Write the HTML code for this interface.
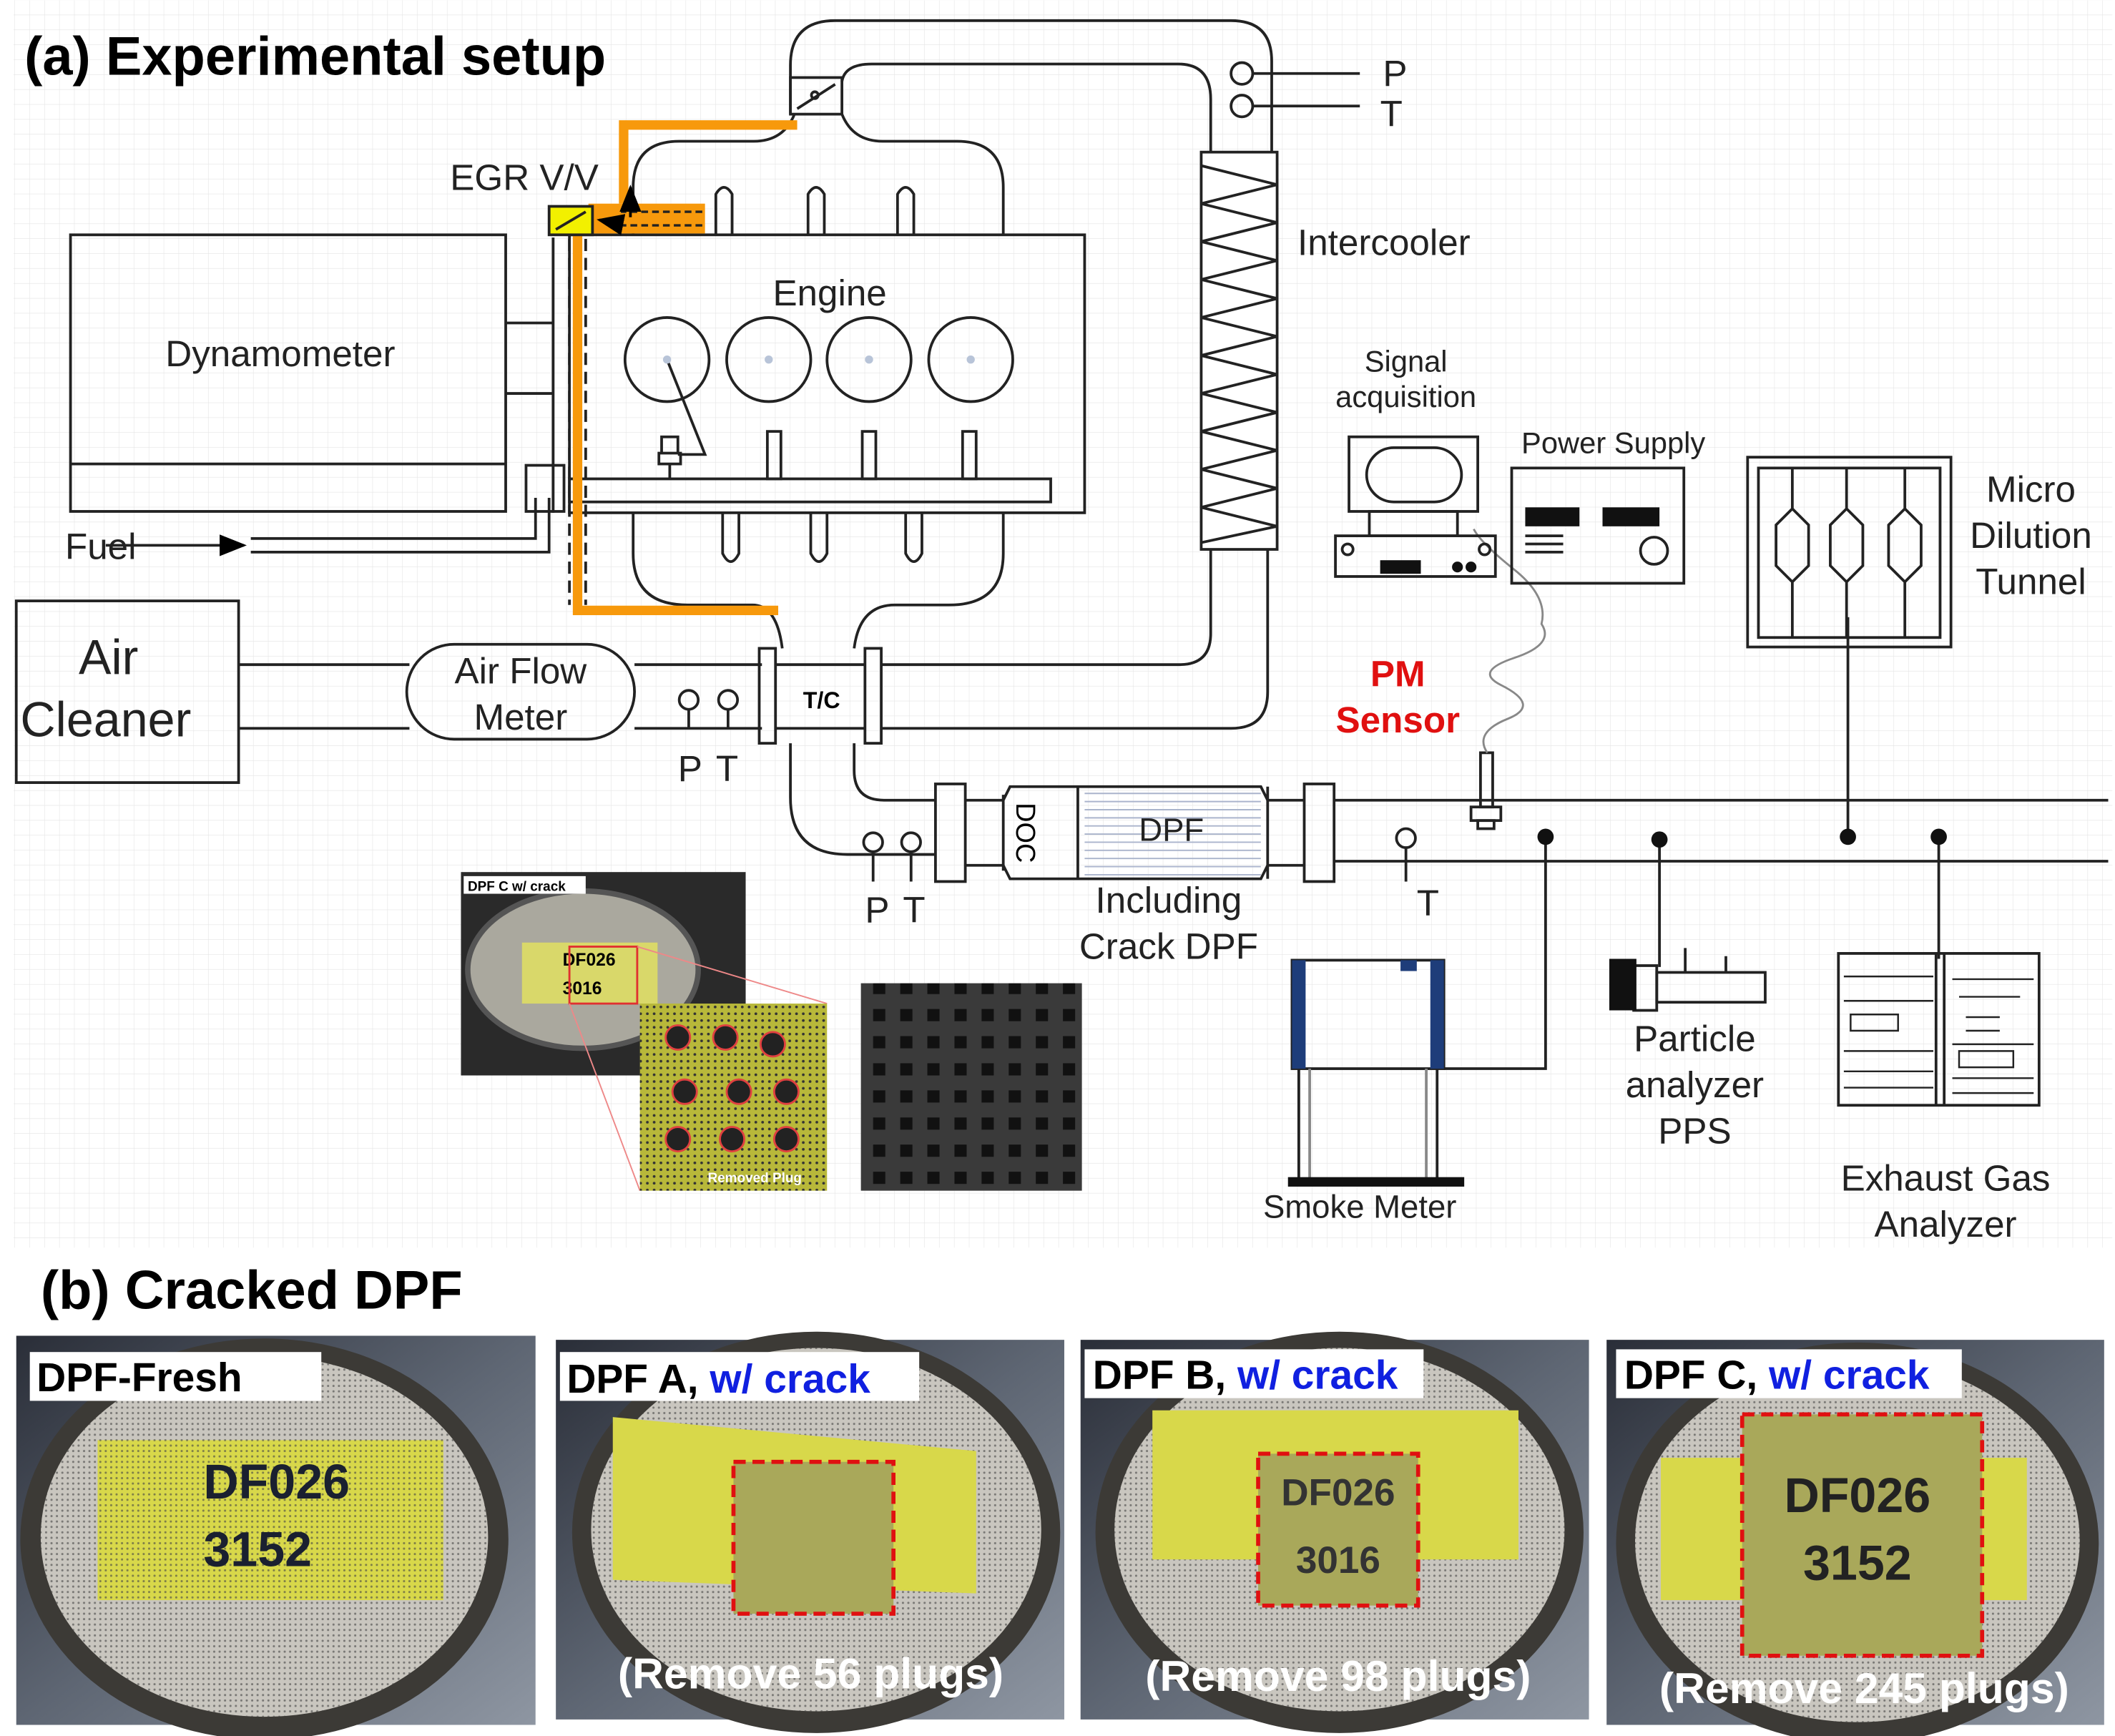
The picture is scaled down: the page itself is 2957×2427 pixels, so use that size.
<!DOCTYPE html>
<html><head><meta charset="utf-8"><style>
html,body{margin:0;padding:0;background:#fff}
svg{display:block}
text{font-family:"Liberation Sans",sans-serif}
.n{font-family:"Liberation Sans Narrow","Liberation Sans",sans-serif}
</style></head><body>
<svg width="2957" height="2427" viewBox="0 0 1560 1280" xmlns="http://www.w3.org/2000/svg">
<defs>
<pattern id="g" width="11" height="11" patternUnits="userSpaceOnUse"><path d="M11 0V11H0" fill="none" stroke="#e4e4e4" stroke-width="0.6"/></pattern>
<pattern id="dots" width="5" height="5" patternUnits="userSpaceOnUse"><circle cx="2.5" cy="2.5" r="1" fill="#333"/></pattern>
<pattern id="fd" width="4" height="4" patternUnits="userSpaceOnUse"><circle cx="2" cy="2" r="0.8" fill="#444" opacity="0.6"/></pattern>
<pattern id="cells" width="20" height="20" patternUnits="userSpaceOnUse"><rect width="20" height="20" fill="#3a3a3a"/><rect x="4" y="4" width="9" height="9" fill="#111"/></pattern>
<linearGradient id="met" x1="0" y1="0" x2="1" y2="1"><stop offset="0" stop-color="#2a2e38"/><stop offset="0.5" stop-color="#5e6673"/><stop offset="1" stop-color="#8e96a2"/></linearGradient>
<marker id="ar" markerWidth="10" markerHeight="8" refX="9" refY="4" orient="auto"><path d="M0 0L10 4L0 8z" fill="#000"/></marker>
</defs>
<rect x="10" y="0" width="1548" height="920" fill="url(#g)"/>
<text x="18" y="55" font-size="40" font-weight="bold">(a) Experimental setup</text>
<g fill="none" stroke="#222" stroke-width="2">
<!-- dynamometer -->
<rect x="52" y="173" width="321" height="204"/><line x1="52" y1="342" x2="373" y2="342"/>
<line x1="373" y1="238" x2="408" y2="238"/><line x1="373" y1="290" x2="408" y2="290"/>
<line x1="408" y1="175" x2="408" y2="378"/>
<rect x="388" y="343" width="28" height="34"/>
<!-- engine -->
<rect x="420" y="173" width="380" height="205"/>
<circle cx="492" cy="265" r="31"/><circle cx="567" cy="265" r="31"/><circle cx="641" cy="265" r="31"/><circle cx="716" cy="265" r="31"/>
<rect x="420" y="353" width="355" height="17"/>
<path d="M492 265L520 335h-20M488 322h12v12h-12zM486 334h16v8h-16zM494 342v11"/>
<path d="M566 318v35h10v-35zM636 318v35h10v-35zM710 318v35h10v-35z"/>
<path d="M528 173v-30q6-10 12 0v30M596 173v-30q6-10 12 0v30M662 173v-30q6-10 12 0v30"/>
<path d="M533 378v30q6 12 12 0v-30M598 378v30q6 12 12 0v-30M668 378v30q6 12 12 0v-30"/>
<!-- intake manifold loop above engine -->
<path d="M467 173v-35q0-34 34-34h55q22 0 30-20"/>
<path d="M740 173v-35q0-34-34-34h-55q-22 0-30-20"/>
<!-- exhaust manifold loop below engine -->
<path d="M467 378v30q0 38 40 38h48q18 0 22 32"/>
<path d="M740 378v30q0 38-40 38h-40q-26 0-30 32"/>
<!-- throttle & intercooler loops -->
<path d="M583 84V48q0-33 33-33h292q30 0 30 30v67"/>
<path d="M621 60q2-13 22-13h226q24 0 24 26v39"/>
<rect x="583" y="57" width="38" height="27"/><line x1="588" y1="80" x2="616" y2="62"/><circle cx="601" cy="70" r="2.5"/>
<path d="M893 405v62q0 23-23 23h-220"/>
<path d="M935 405v105q0 27-27 27h-258"/>
<!-- fuel -->
<line x1="78" y1="402" x2="180" y2="402" marker-end="url(#ar)"/>
<path d="M185 397h210v-30M185 407h220v-40"/>
<!-- air cleaner -->
<rect x="12" y="443" width="164" height="134"/>
<line x1="176" y1="490" x2="302" y2="490"/><line x1="176" y1="537" x2="302" y2="537"/>
<rect x="300" y="475" width="168" height="70" rx="35"/>
<line x1="468" y1="490" x2="562" y2="490"/><line x1="468" y1="537" x2="562" y2="537"/>
<circle cx="508" cy="516" r="7"/><line x1="508" y1="523" x2="508" y2="537"/>
<circle cx="537" cy="516" r="7"/><line x1="537" y1="523" x2="537" y2="537"/>
<!-- T/C -->
<rect x="560" y="478" width="12" height="70"/><rect x="638" y="478" width="12" height="70"/>
<line x1="572" y1="490" x2="638" y2="490"/><line x1="572" y1="537" x2="638" y2="537"/>
<!-- turbine to DPF -->
<path d="M583 548v40q0 42 42 42h65"/>
<path d="M630 548v20q0 22 22 22h38"/>
<circle cx="644" cy="621" r="7"/><line x1="644" y1="628" x2="644" y2="650"/>
<circle cx="672" cy="621" r="7"/><line x1="672" y1="628" x2="672" y2="650"/>
<!-- P T top -->
<circle cx="916" cy="54" r="8"/><line x1="924" y1="54" x2="1003" y2="54"/>
<circle cx="916" cy="78" r="8"/><line x1="924" y1="78" x2="1003" y2="78"/>
<!-- intercooler -->
<rect x="886" y="112" width="56" height="293" fill="#fff"/>
<path d="M886 122L942 136L886 150L942 164L886 178L942 192L886 206L942 220L886 234L942 248L886 262L942 276L886 290L942 304L886 318L942 332L886 346L942 360L886 374L942 388L886 400"/>
<!-- DPF -->
<rect x="690" y="578" width="22" height="72"/><rect x="962" y="578" width="22" height="72"/>
<path d="M712 590h28l5-10h185l5 10h27M712 638h28l5 10h185l5-10h27"/>
<line x1="740" y1="586" x2="740" y2="642"/><line x1="795" y1="580" x2="795" y2="648"/><line x1="935" y1="580" x2="935" y2="648"/>
<!-- exhaust pipe -->
<line x1="984" y1="590" x2="1555" y2="590"/><line x1="984" y1="635" x2="1555" y2="635"/>
<circle cx="1037" cy="618" r="7"/><line x1="1037" y1="625" x2="1037" y2="650"/>
<!-- PM sensor -->
<rect x="1092" y="555" width="9" height="40"/><rect x="1085" y="595" width="22" height="10"/><rect x="1090" y="605" width="12" height="6"/>
<path d="M1097 555q-10-15 15-25t-5-25q-20-10 10-20t20-25q5-20-20-40t-30-30" stroke="#888" stroke-width="1.5"/>
<!-- connections -->
<path d="M1140 616v172h-75"/><path d="M1224 618v95"/><path d="M1363 617v-162"/><path d="M1430 617v90"/>
<!-- Signal acquisition computer -->
<rect x="995" y="322" width="95" height="55"/><rect x="1008" y="330" width="70" height="40" rx="20"/>
<rect x="1010" y="377" width="65" height="18"/>
<rect x="985" y="395" width="118" height="30"/><circle cx="994" cy="405" r="4"/><circle cx="1095" cy="405" r="4"/>
<!-- power supply -->
<rect x="1115" y="345" width="127" height="85"/>
<path d="M1125 395h28M1125 401h28M1125 407h28"/>
<!-- micro dilution -->
<rect x="1289" y="337" width="150" height="140"/><rect x="1297" y="345" width="134" height="125"/>
<path d="M1322 345v30l-12 12v30l12 12v41M1322 375l12 12v30l-12 12M1362 345v30l-12 12v30l12 12v41M1362 375l12 12v30l-12 12M1405 345v30l-12 12v30l12 12v41M1405 375l12 12v30l-12 12"/>
<!-- smoke meter -->
<rect x="953" y="708" width="112" height="80"/>
<line x1="958" y1="788" x2="958" y2="870"/><line x1="1060" y1="788" x2="1060" y2="870"/>
<line x1="966" y1="788" x2="966" y2="870" stroke="#888"/><line x1="1052" y1="788" x2="1052" y2="870" stroke="#888"/>
<!-- particle analyzer -->
<rect x="1205" y="712" width="17" height="33"/><rect x="1222" y="717" width="80" height="22"/>
<path d="M1243 717v-18M1273 717v-12"/>
<!-- exhaust gas analyzer -->
<rect x="1356" y="703" width="148" height="112"/><line x1="1428" y1="703" x2="1428" y2="815"/><line x1="1434" y1="703" x2="1434" y2="815"/>
<path d="M1360 720h66M1360 738h66M1365 748h35v12h-35zM1360 775h66M1360 790h66M1360 802h66M1440 722h60M1445 735h45M1450 750h25M1450 760h25M1440 770h60M1445 775h40v12h-40zM1440 795h60M1440 806h60" stroke-width="1.3"/>
</g>
<g fill="#111"><rect x="1125" y="374" width="40" height="14"/><rect x="1182" y="374" width="42" height="14"/>
<circle cx="1220" cy="406" r="10" fill="none" stroke="#222" stroke-width="2"/>
<rect x="1018" y="413" width="30" height="10"/><circle cx="1075" cy="418" r="4"/><circle cx="1085" cy="418" r="4"/>
<circle cx="1140" cy="617" r="6"/><circle cx="1224" cy="619" r="6"/><circle cx="1363" cy="617" r="6"/><circle cx="1430" cy="617" r="6"/>
<rect x="950" y="868" width="130" height="7"/><rect x="1187" y="707" width="20" height="38"/></g>
<rect x="953" y="708" width="10" height="80" fill="#1e3d7a"/><rect x="1055" y="708" width="10" height="80" fill="#1e3d7a"/>
<rect x="1033" y="708" width="12" height="8" fill="#1e3d7a"/>
<g fill="#b8c4d8"><circle cx="492" cy="265" r="3"/><circle cx="567" cy="265" r="3"/><circle cx="641" cy="265" r="3"/><circle cx="716" cy="265" r="3"/></g>
<path d="M800 585h130M800 591h130M800 597h130M800 603h130M800 609h130M800 615h130M800 621h130M800 627h130M800 633h130M800 639h130M800 645h130" stroke="#aab4cc" stroke-width="1"/>
<!-- EGR orange -->
<g fill="none" stroke="#f7990c" stroke-width="7">
<path d="M588 92h-128v58"/><path d="M426 172v278h148"/>
</g>
<rect x="434" y="150" width="86" height="22" fill="#f7990c"/>
<path d="M420 176v270M432 176v270" stroke="#222" stroke-width="2" stroke-dasharray="9,5" fill="none"/>
<path d="M518 156h-60M518 166h-62" stroke="#222" stroke-width="1.8" stroke-dasharray="5,3" fill="none"/>
<path d="M465 160v-22" stroke="#000" stroke-width="2" marker-end="url(#ar)"/>
<path d="M452 164l-10-2" stroke="#000" stroke-width="2" marker-end="url(#ar)"/>
<rect x="405" y="152" width="32" height="21" fill="#f2f000" stroke="#222" stroke-width="2"/>
<line x1="410" y1="169" x2="432" y2="156" stroke="#222" stroke-width="2"/>
<!-- photos in top panel -->
<rect x="340" y="643" width="210" height="150" fill="#2a2a2a"/>
<ellipse cx="430" cy="715" rx="85" ry="58" fill="#aaa89e" stroke="#555" stroke-width="4"/>
<rect x="385" y="695" width="100" height="45" fill="#d9d86a"/>
<text x="415" y="712" font-size="13" font-weight="bold">DF026</text><text x="415" y="733" font-size="13" font-weight="bold">3016</text>
<rect x="342" y="646" width="90" height="13" fill="#fff"/><text x="345" y="657" font-size="10" font-weight="bold">DPF C w/ crack</text>
<rect x="420" y="698" width="50" height="42" fill="none" stroke="#e03030" stroke-width="1.5"/>
<path d="M420 740L472 878M470 698L610 740" stroke="#e88" stroke-width="1"/>
<rect x="472" y="740" width="138" height="138" fill="#b8b83a"/><rect x="472" y="740" width="138" height="138" fill="url(#dots)"/>
<g fill="#222" stroke="#e04040" stroke-width="1.5"><circle cx="500" cy="765" r="9"/><circle cx="535" cy="765" r="9"/><circle cx="570" cy="770" r="9"/><circle cx="505" cy="805" r="9"/><circle cx="545" cy="805" r="9"/><circle cx="580" cy="805" r="9"/><circle cx="500" cy="840" r="9"/><circle cx="540" cy="840" r="9"/><circle cx="580" cy="840" r="9"/></g>
<text x="522" y="872" font-size="10" font-weight="bold" fill="#fff">Removed Plug</text>
<rect x="635" y="725" width="163" height="153" fill="url(#cells)"/>
<!-- labels -->
<g font-size="27" fill="#222">
<text x="332" y="140">EGR V/V</text>
<text x="122" y="270">Dynamometer</text>
<text x="570" y="225">Engine</text>
<text x="48" y="412">Fuel</text>
<text x="58" y="497" font-size="36">Air</text><text x="15" y="543" font-size="36">Cleaner</text>
<text x="384" y="504" text-anchor="middle">Air Flow</text><text x="384" y="538" text-anchor="middle">Meter</text>
<text x="500" y="576">P</text><text x="528" y="576">T</text>
<text x="638" y="680">P</text><text x="666" y="680">T</text>
<text x="1020" y="63">P</text><text x="1018" y="93">T</text>
<text x="957" y="188">Intercooler</text>
<text x="1037" y="274" text-anchor="middle" font-size="22">Signal</text><text x="1037" y="300" text-anchor="middle" font-size="22">acquisition</text>
<text x="1190" y="334" text-anchor="middle" font-size="22">Power Supply</text>
<text x="1498" y="370" text-anchor="middle">Micro</text><text x="1498" y="404" text-anchor="middle">Dilution</text><text x="1498" y="438" text-anchor="middle">Tunnel</text>
<text x="864" y="620" text-anchor="middle" font-size="24">DPF</text>
<text x="862" y="673" text-anchor="middle">Including</text><text x="862" y="707" text-anchor="middle">Crack DPF</text>
<text x="1045" y="675">T</text>
<text x="1250" y="775" text-anchor="middle">Particle</text><text x="1250" y="809" text-anchor="middle">analyzer</text><text x="1250" y="843" text-anchor="middle">PPS</text>
<text x="1003" y="898" text-anchor="middle" font-size="24">Smoke Meter</text>
<text x="1435" y="878" text-anchor="middle">Exhaust Gas</text><text x="1435" y="912" text-anchor="middle">Analyzer</text>
</g>
<text x="755" y="614" font-size="20" transform="rotate(90 755 614)" text-anchor="middle" dominant-baseline="middle">DOC</text>
<text x="606" y="522" font-size="17" font-weight="bold" text-anchor="middle">T/C</text>
<text x="1031" y="506" font-size="27" font-weight="bold" fill="#e01010" text-anchor="middle">PM</text>
<text x="1031" y="540" font-size="27" font-weight="bold" fill="#e01010" text-anchor="middle">Sensor</text>
<!-- (b) -->
<text x="30" y="965" font-size="40" font-weight="bold">(b) Cracked DPF</text>
<g>
<rect x="12" y="985" width="383" height="287" fill="url(#met)"/>
<ellipse cx="195" cy="1135" rx="180" ry="148" fill="#3c3a36"/><ellipse cx="195" cy="1133" rx="165" ry="133" fill="#c9c6bf"/><ellipse cx="195" cy="1133" rx="165" ry="133" fill="url(#fd)"/>
<rect x="72" y="1062" width="255" height="118" fill="#d8d84a"/><rect x="72" y="1062" width="255" height="118" fill="url(#fd)"/>
<text x="150" y="1105" font-size="36" font-weight="bold" fill="#1a2030" class="n">DF026</text><text x="150" y="1155" font-size="36" font-weight="bold" fill="#1a2030" class="n">3152</text>
<rect x="22" y="997" width="215" height="36" fill="#fff"/><text x="27" y="1026" font-size="30" font-weight="bold" class="n">DPF-Fresh</text>

<rect x="410" y="988" width="375" height="280" fill="url(#met)"/>
<ellipse cx="602" cy="1130" rx="180" ry="148" fill="#3c3a36"/><ellipse cx="602" cy="1128" rx="166" ry="134" fill="#c9c6bf"/><ellipse cx="602" cy="1128" rx="166" ry="134" fill="url(#fd)"/>
<path d="M452 1045L720 1070V1175L452 1165z" fill="#d8d84a"/>
<rect x="541" y="1078" width="118" height="112" fill="#a9a85a" stroke="#e01010" stroke-width="3" stroke-dasharray="9,5"/>
<rect x="413" y="997" width="265" height="36" fill="#fff"/>
<text x="418" y="1027" font-size="30" font-weight="bold" class="n">DPF A, <tspan fill="#1020e0">w/ crack</tspan></text>
<text x="598" y="1245" font-size="32" font-weight="bold" fill="#fff" text-anchor="middle" class="n">(Remove 56 plugs)</text>

<rect x="797" y="988" width="375" height="280" fill="url(#met)"/>
<ellipse cx="988" cy="1130" rx="180" ry="148" fill="#3c3a36"/><ellipse cx="988" cy="1128" rx="166" ry="134" fill="#c9c6bf"/><ellipse cx="988" cy="1128" rx="166" ry="134" fill="url(#fd)"/>
<rect x="850" y="1040" width="270" height="110" fill="#d8d84a"/>
<rect x="928" y="1072" width="118" height="112" fill="#a9a85a" stroke="#e01010" stroke-width="3" stroke-dasharray="9,5"/>
<text x="987" y="1110" font-size="28" font-weight="bold" fill="#333" text-anchor="middle" class="n">DF026</text><text x="987" y="1160" font-size="28" font-weight="bold" fill="#333" text-anchor="middle" class="n">3016</text>
<rect x="800" y="995" width="250" height="36" fill="#fff"/>
<text x="806" y="1024" font-size="30" font-weight="bold" class="n">DPF B, <tspan fill="#1020e0">w/ crack</tspan></text>
<text x="987" y="1247" font-size="32" font-weight="bold" fill="#fff" text-anchor="middle" class="n">(Remove 98 plugs)</text>

<rect x="1185" y="988" width="367" height="284" fill="url(#met)"/>
<ellipse cx="1370" cy="1138" rx="178" ry="148" fill="#3c3a36"/><ellipse cx="1370" cy="1136" rx="164" ry="134" fill="#c9c6bf"/><ellipse cx="1370" cy="1136" rx="164" ry="134" fill="url(#fd)"/>
<rect x="1225" y="1075" width="270" height="105" fill="#d8d84a"/>
<rect x="1285" y="1043" width="177" height="178" fill="#a9a85a" stroke="#e01010" stroke-width="3" stroke-dasharray="9,5"/>
<text x="1370" y="1115" font-size="36" font-weight="bold" fill="#222" text-anchor="middle" class="n">DF026</text><text x="1370" y="1165" font-size="36" font-weight="bold" fill="#222" text-anchor="middle" class="n">3152</text>
<rect x="1192" y="995" width="255" height="36" fill="#fff"/>
<text x="1198" y="1024" font-size="30" font-weight="bold" class="n">DPF C, <tspan fill="#1020e0">w/ crack</tspan></text>
<text x="1375" y="1256" font-size="32" font-weight="bold" fill="#fff" text-anchor="middle" class="n">(Remove 245 plugs)</text>
</g>
</svg>
</body></html>
